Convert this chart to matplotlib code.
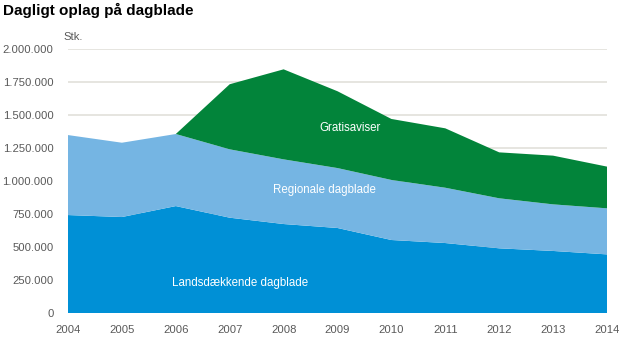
import matplotlib
matplotlib.use('Agg')
import matplotlib.pyplot as plt
from matplotlib.ticker import FuncFormatter

# Data (stk., daily circulation)
years = [2004, 2005, 2006, 2007, 2008, 2009, 2010, 2011, 2012, 2013, 2014]
landsdaekkende = [742000, 727000, 810000, 722000, 674000, 644000, 553000, 530000, 490000, 470000, 444000]
regionale = [606000, 563000, 546000, 518000, 490000, 454000, 455000, 419000, 379000, 353000, 349000]
gratis = [0, 0, 0, 493000, 682000, 582000, 462000, 450000, 348000, 369000, 316000]

c_lands = '#0090d6'
c_reg = '#75b5e3'
c_grat = '#02843a'
grey = '#595959'

plt.rcParams['font.family'] = ['Liberation Sans', 'DejaVu Sans']

fig = plt.figure(figsize=(6.31, 3.62), dpi=100)
ax = fig.add_axes([68 / 631, 49 / 362, (607 - 68) / 631, (313 - 49) / 362])

ax.stackplot(years, landsdaekkende, regionale, gratis,
             colors=[c_lands, c_reg, c_grat], linewidth=0, zorder=2)

ax.set_xlim(2004, 2014)
ax.set_ylim(0, 2000000)
ax.set_xticks(years)
ax.set_yticks(range(0, 2000001, 250000))
ax.yaxis.set_major_formatter(FuncFormatter(lambda v, p: f'{int(v):,}'.replace(',', '.')))
ax.grid(axis='y', color='#e2e0da', linewidth=1.2, zorder=0)
ax.set_axisbelow(True)
for s in ax.spines.values():
    s.set_visible(False)
ax.tick_params(length=0, labelsize=8.1, labelcolor=grey)
ax.tick_params(axis='x', pad=8.5)
ax.tick_params(axis='y', pad=10.5)

fig.text(3 / 631, 1 - 10 / 362, 'Dagligt oplag på dagblade', fontsize=11,
         fontweight='bold', va='center', ha='left')
fig.text(63 / 631, 1 - 37 / 362, 'Stk.', fontsize=8.1, color=grey, va='center', ha='left')

ax.text(2009.24, 1400000, 'Gratisaviser', color='white', fontsize=8.3, ha='center', va='center')
ax.text(2008.75, 930000, 'Regionale dagblade', color='white', fontsize=8.3, ha='center', va='center')
ax.text(2007.2, 230000, 'Landsdækkende dagblade', color='white', fontsize=8.3, ha='center', va='center')

fig.savefig('out.png', dpi=100)
